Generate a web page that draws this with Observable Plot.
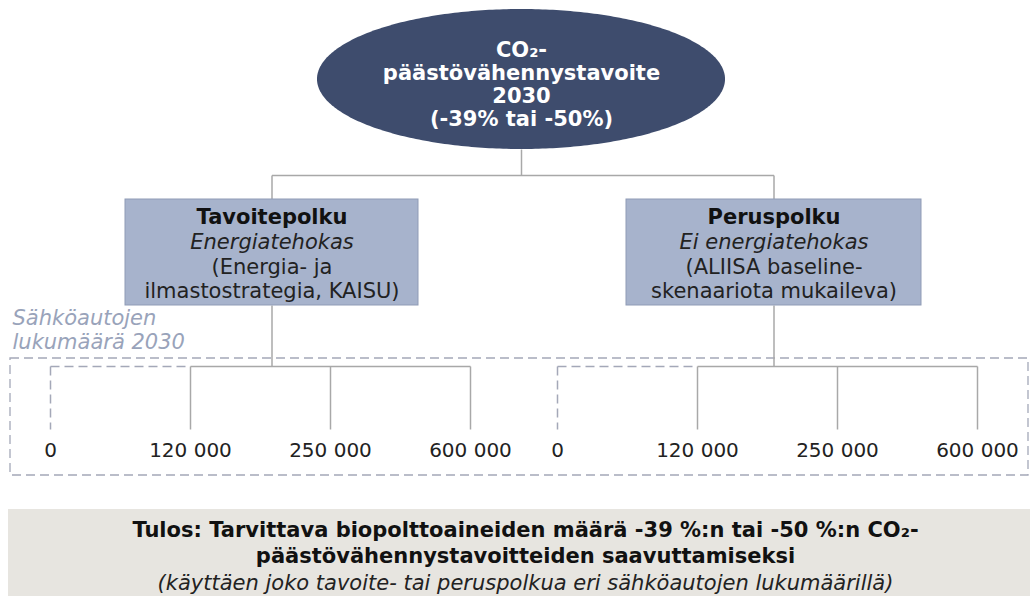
<!DOCTYPE html>
<html>
<head>
<meta charset="utf-8">
<script src="https://cdn.jsdelivr.net/npm/d3@7"></script>
<script src="https://cdn.jsdelivr.net/npm/@observablehq/plot@0.6"></script>
<style>
  html, body { margin: 0; padding: 0; background: #ffffff; }
  #chart { width: 1030px; height: 596px; overflow: hidden; }
</style>
</head>
<body>
<div id="chart"></div>
<script>
// ---- Data (text content of the diagram) ----
const goalLines = ["CO₂-", "päästövähennystavoite", "2030", "(-39% tai -50%)"];
const pathNames = ["Tavoitepolku", "Peruspolku"];
const pathTypes = ["Energiatehokas", "Ei energiatehokas"];
const pathSources = [
  ["(Energia- ja", "ilmastostrategia, KAISU)"],
  ["(ALIISA baseline-", "skenaariota mukaileva)"]
];
const evCounts = [0, 120000, 250000, 600000];
const evGroupLabel = ["Sähköautojen", "lukumäärä 2030"];
const resultBold = [
  "Tulos: Tarvittava biopolttoaineiden määrä -39 %:n tai -50 %:n CO₂-",
  "päästövähennystavoitteiden saavuttamiseksi"
];
const resultNote = "(käyttäen joko tavoite- tai peruspolkua eri sähköautojen lukumäärillä)";

// ---- Layout ----
const W = 1030, H = 596;
const FONT = "DejaVu Sans, Verdana, sans-serif";
const lineCol = "#a8a8a8";
const dashCol = "#a4a8b8";
const fmt = d3.formatLocale({decimal: ",", thousands: " ", grouping: [3], currency: ["", ""]}).format(",");

const ell = {cx: 521, cy: 79, rx: 204, ry: 70};
const ellPts = d3.range(0, 181).map(i => {
  const t = Math.PI * i / 180;
  return {x: ell.cx + ell.rx * Math.cos(t), y1: ell.cy - ell.ry * Math.sin(t), y2: ell.cy + ell.ry * Math.sin(t)};
});
const goalText = goalLines.map((s, i) => ({s, x: ell.cx, y: 50 + i * 23}));

const boxes = pathNames.map((name, i) => {
  const x1 = i === 0 ? 125 : 626, x2 = i === 0 ? 418 : 921;
  return {name, type: pathTypes[i], src: pathSources[i], x1, x2, y1: 199, y2: 305, cx: (x1 + x2) / 2};
});

const treeX0 = [50, 557];
const treeStep = 140;
const treeY = 366, dropY = 429;
const trees = boxes.map((b, i) => evCounts.map((v, j) => ({v, x: treeX0[i] + j * treeStep, box: i, j})));

const solidLinks = [
  {x1: ell.cx, y1: ell.cy + ell.ry, x2: ell.cx, y2: 175},
  {x1: boxes[0].cx, y1: 175, x2: boxes[1].cx, y2: 175},
  ...boxes.map(b => ({x1: b.cx, y1: 175, x2: b.cx, y2: b.y1})),
  ...boxes.map(b => ({x1: b.cx, y1: b.y2, x2: b.cx, y2: treeY}))
];
trees.forEach(t => {
  solidLinks.push({x1: t[1].x, y1: treeY, x2: t[3].x, y2: treeY});
  t.slice(1).forEach(d => solidLinks.push({x1: d.x, y1: treeY, x2: d.x, y2: dropY}));
});
const dashedLinks = [];
trees.forEach(t => {
  dashedLinks.push({x1: t[0].x, y1: treeY, x2: t[1].x, y2: treeY});
  dashedLinks.push({x1: t[0].x, y1: treeY, x2: t[0].x, y2: dropY});
});
const outerBox = [{x1: 10, x2: 1028, y1: 358, y2: 475}];
const tickLabels = trees.flat().map(d => ({x: d.x, y: 450, s: fmt(d.v)}));

const boxBold = boxes.map(b => ({x: b.cx, y: 217, s: b.name}));
const boxItal = boxes.map(b => ({x: b.cx, y: 242, s: b.type}));
const boxReg = boxes.flatMap(b => b.src.map((s, k) => ({x: b.cx, y: 267 + k * 24, s})));
const groupLbl = evGroupLabel.map((s, k) => ({x: 12, y: 318 + k * 24, s}));

const resultBox = [{x1: 8, x2: 1030, y1: 509, y2: 596}];
const resB = resultBold.map((s, k) => ({x: 525, y: 530 + k * 26, s}));
const resI = [{x: 525, y: 583, s: resultNote}];

const chart = Plot.plot({
  width: W, height: H,
  margin: 0,
  x: {type: "identity", axis: null},
  y: {type: "identity", axis: null},
  style: {background: "#ffffff", fontFamily: FONT},
  marks: [
    // result box
    Plot.rect(resultBox, {x1: "x1", x2: "x2", y1: "y1", y2: "y2", fill: "#e7e5e0"}),
    // outer dashed group frame
    Plot.rect(outerBox, {x1: "x1", x2: "x2", y1: "y1", y2: "y2", fill: "none", stroke: dashCol, strokeWidth: 1.3, strokeDasharray: "9,5"}),
    // connectors
    Plot.link(solidLinks, {x1: "x1", y1: "y1", x2: "x2", y2: "y2", stroke: lineCol, strokeWidth: 1.5}),
    Plot.link(dashedLinks, {x1: "x1", y1: "y1", x2: "x2", y2: "y2", stroke: dashCol, strokeWidth: 1.5, strokeDasharray: "9,5"}),
    // goal ellipse
    Plot.area(ellPts, {x1: "x", y1: "y1", y2: "y2", fill: "#3e4c6d", curve: "linear"}),
    Plot.text(goalText, {x: "x", y: "y", text: "s", fill: "#ffffff", fontWeight: "bold", fontSize: 21, fontFamily: FONT}),
    // path boxes
    Plot.rect(boxes, {x1: "x1", x2: "x2", y1: "y1", y2: "y2", fill: "#a7b3cc", stroke: "#8f9bb6", strokeWidth: 1}),
    Plot.text(boxBold, {x: "x", y: "y", text: "s", fill: "#111111", fontWeight: "bold", fontSize: 21, fontFamily: FONT}),
    Plot.text(boxItal, {x: "x", y: "y", text: "s", fill: "#222222", fontStyle: "italic", fontSize: 21, fontFamily: FONT}),
    Plot.text(boxReg, {x: "x", y: "y", text: "s", fill: "#222222", fontSize: 21, fontFamily: FONT}),
    // group label
    Plot.text(groupLbl, {x: "x", y: "y", text: "s", fill: "#99a3ba", fontStyle: "italic", fontSize: 21, textAnchor: "start", fontFamily: FONT}),
    // EV count labels
    Plot.text(tickLabels, {x: "x", y: "y", text: "s", fill: "#222222", fontSize: 20, fontFamily: FONT}),
    // result text
    Plot.text(resB, {x: "x", y: "y", text: "s", fill: "#111111", fontWeight: "bold", fontSize: 21, fontFamily: FONT}),
    Plot.text(resI, {x: "x", y: "y", text: "s", fill: "#222222", fontStyle: "italic", fontSize: 21, fontFamily: FONT})
  ]
});
document.getElementById("chart").appendChild(chart);
</script>
</body>
</html>
